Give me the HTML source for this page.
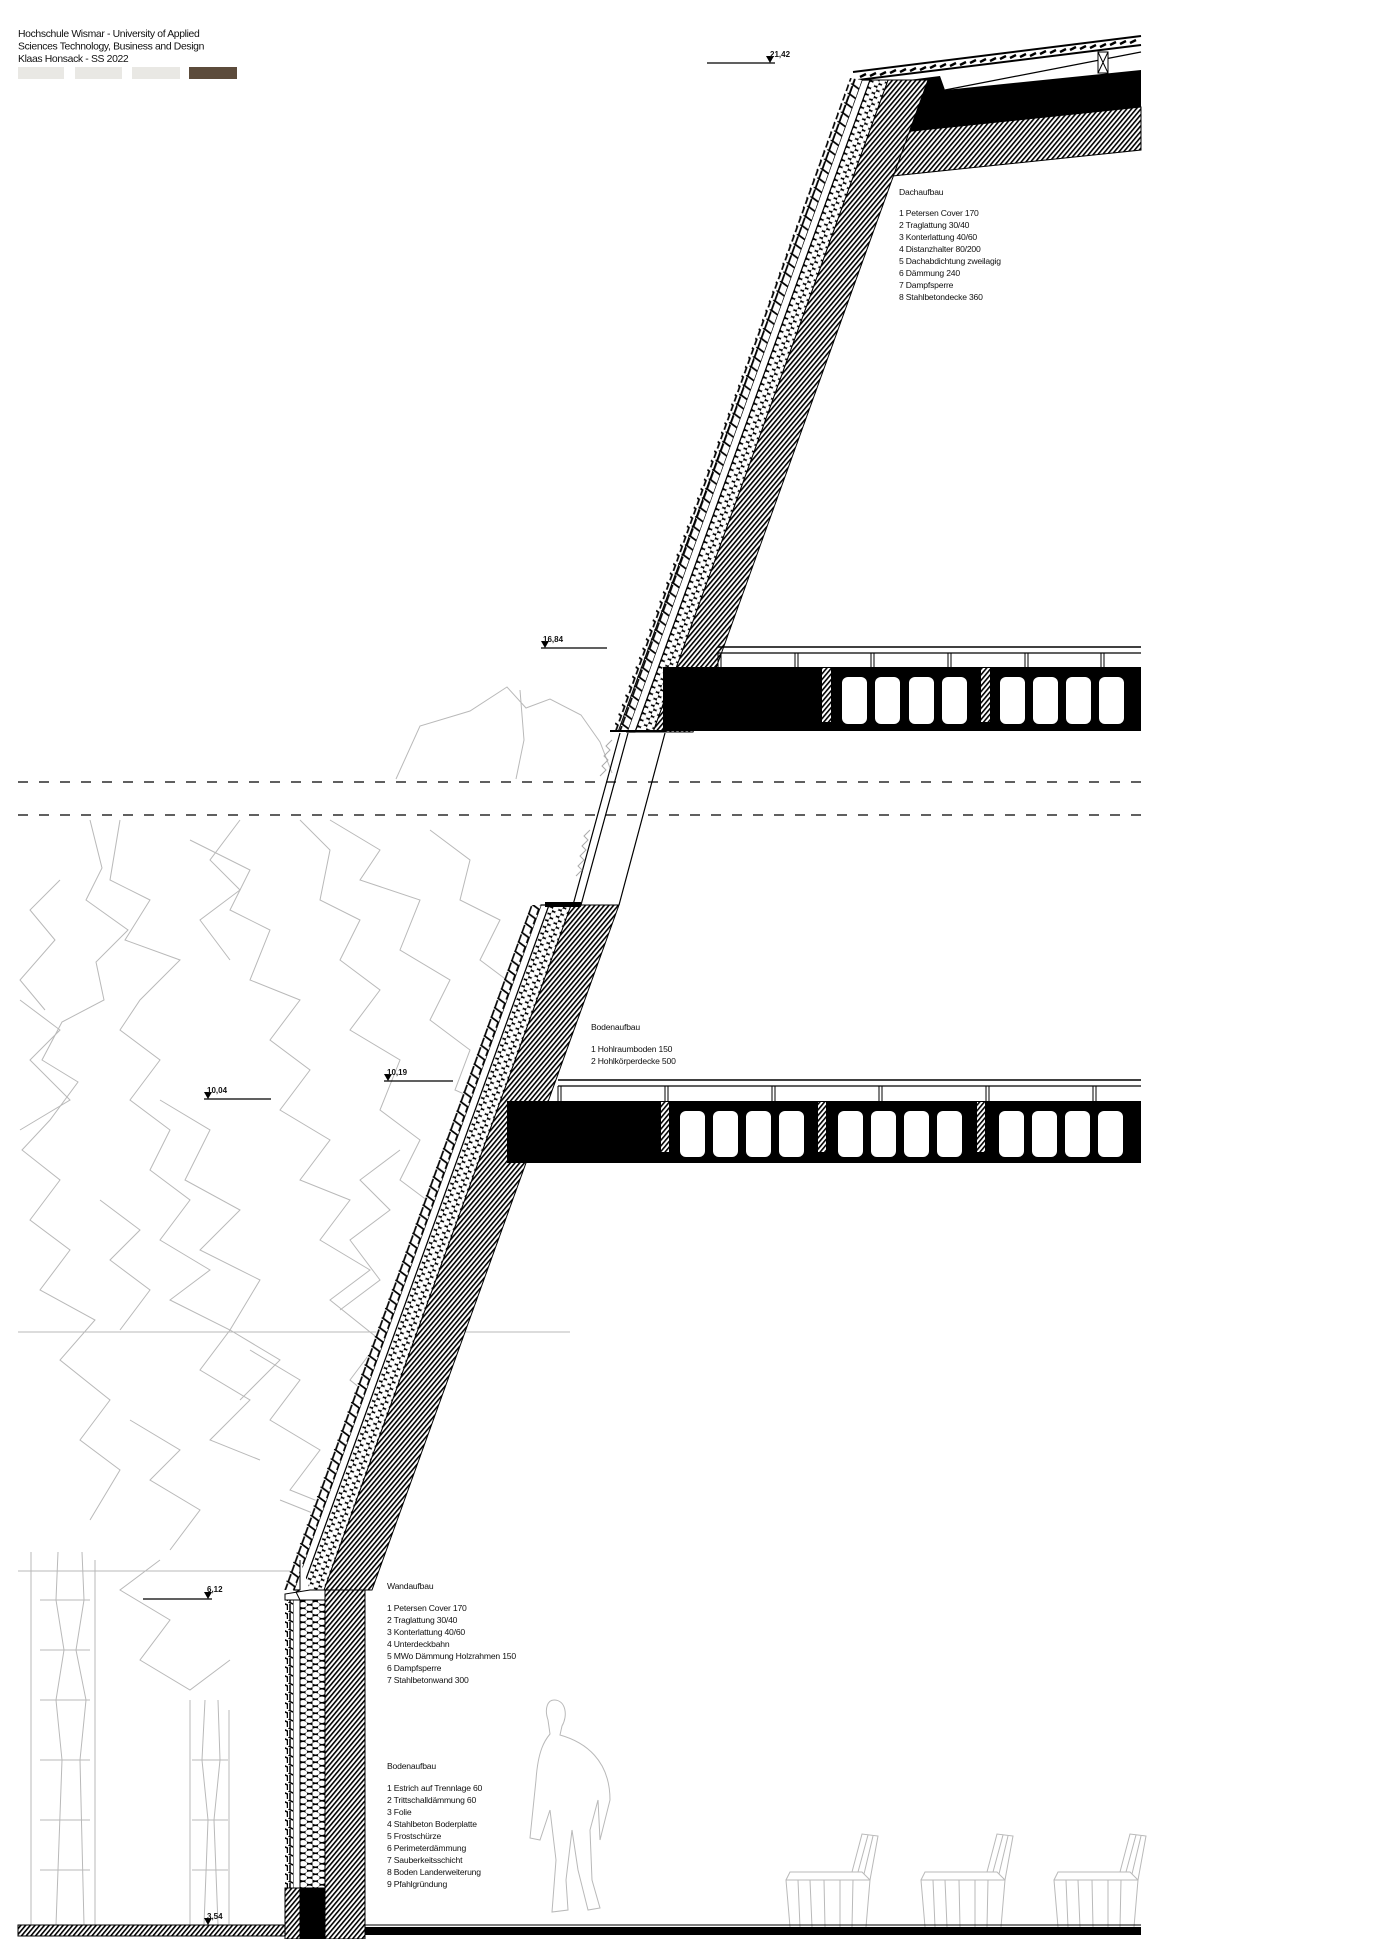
<!DOCTYPE html>
<html><head><meta charset="utf-8"><style>
html,body{margin:0;padding:0;background:#fff;}
svg{display:block;}
text{font-family:"Liberation Sans",sans-serif;fill:#111;}
.t{font-size:8.6px;letter-spacing:-0.2px;}
.h{font-size:10.4px;letter-spacing:-0.35px;}
.lv{font-size:8px;font-weight:bold;}
.g{fill:none;stroke:#b9b9b9;stroke-width:1;}
</style></head><body>
<svg width="1400" height="1939" viewBox="0 0 1400 1939" xmlns="http://www.w3.org/2000/svg">
<defs>
<pattern id="hat" width="3.6" height="3.6" patternUnits="userSpaceOnUse" patternTransform="rotate(40)">
<rect width="3.6" height="3.6" fill="#fff"/><rect width="1.6" height="3.6" fill="#000"/></pattern>
<pattern id="hex" width="9" height="7" patternUnits="userSpaceOnUse" patternTransform="rotate(19.8)">
<rect width="9" height="7" fill="#000"/><ellipse cx="2.25" cy="1.75" rx="3.3" ry="2.7" fill="#fff"/><ellipse cx="6.75" cy="5.25" rx="3.3" ry="2.7" fill="#fff"/><ellipse cx="2.25" cy="8.75" rx="3.3" ry="2.7" fill="#fff"/><ellipse cx="2.25" cy="-5.25" rx="3.3" ry="2.7" fill="#fff"/><ellipse cx="6.75" cy="-1.75" rx="3.3" ry="2.7" fill="#fff"/></pattern>
<pattern id="hexv" width="12.5" height="7" patternUnits="userSpaceOnUse">
<rect width="12.5" height="7" fill="#000"/><ellipse cx="3.1" cy="1.75" rx="4" ry="2.7" fill="#fff"/><ellipse cx="9.4" cy="5.25" rx="4" ry="2.7" fill="#fff"/><ellipse cx="3.1" cy="8.75" rx="4" ry="2.7" fill="#fff"/><ellipse cx="3.1" cy="-5.25" rx="4" ry="2.7" fill="#fff"/><ellipse cx="9.4" cy="-1.75" rx="4" ry="2.7" fill="#fff"/></pattern>
<pattern id="tth" width="12" height="10" patternUnits="userSpaceOnUse" patternTransform="rotate(19.8)">
<rect width="12" height="10" fill="#fff"/><path d="M1,0 L11,3 L11,9 M3,2.5 L3,10" stroke="#000" stroke-width="1.7" fill="none"/></pattern>
<pattern id="tthv" width="8" height="9" patternUnits="userSpaceOnUse">
<rect width="8" height="9" fill="#fff"/><path d="M0.5,0 L7.5,3 L7.5,8 M2,2 L2,9" stroke="#000" stroke-width="1.5" fill="none"/></pattern>
</defs>

<text class="h" x="18" y="37">Hochschule Wismar - University of  Applied</text>
<text class="h" x="18" y="49.5">Sciences Technology, Business and Design</text>
<text class="h" x="18" y="62">Klaas Honsack - SS 2022</text>
<rect x="18" y="67" width="46" height="12" fill="#e9e8e4"/>
<rect x="75" y="67" width="47" height="12" fill="#e9e8e4"/>
<rect x="132" y="67" width="48" height="12" fill="#e9e8e4"/>
<rect x="189" y="67" width="48" height="12" fill="#5c4b3b"/>

<g class="g">
<path d="M396,779 L420,726 L470,711 L507,687 L526,708 L550,699 L581,715 L600,742 L612,773"/>
<path d="M520,690 L524,740 L516,779"/>
<path d="M90,820 L102,868 L86,900 L128,930 L96,962 L104,1000 L62,1022 L42,1060 L78,1082 L50,1120 L22,1150 L60,1180 L30,1220 L70,1250 L40,1290 L95,1320 L60,1360 L110,1400 L80,1440 L120,1470 L90,1520"/>
<path d="M120,820 L110,880 L150,900 L125,940 L180,960 L140,1000 L120,1030 L160,1060 L130,1100 L170,1130 L150,1170 L190,1200 L160,1240 L210,1270 L170,1300 L230,1330 L200,1370 L250,1400 L210,1440 L260,1460"/>
<path d="M190,840 L250,870 L230,910 L270,930 L250,980 L300,1000 L270,1040 L310,1070 L280,1110 L330,1140 L300,1180 L350,1200 L320,1240 L370,1270 L330,1300 L380,1340 L350,1380 L400,1420 L370,1450"/>
<path d="M300,820 L330,850 L320,900 L360,920 L340,960 L380,990 L350,1030 L400,1060 L380,1110 L420,1140 L400,1180 L440,1210 L420,1250 L455,1290"/>
<path d="M330,820 L380,850 L360,880 L420,900 L400,950 L450,980 L430,1020 L470,1050 L455,1090 L500,1110"/>
<path d="M430,830 L470,860 L460,900 L500,920 L480,960 L520,990 L505,1030"/>
<path d="M20,1000 L60,1030 L30,1060 L70,1100 L20,1130"/>
<path d="M160,1100 L210,1130 L185,1180 L240,1210 L200,1250 L260,1280 L230,1330 L280,1360 L240,1400"/>
<path d="M250,1350 L300,1380 L270,1420 L320,1450 L290,1490 L340,1510 L320,1560"/>
<path d="M130,1420 L180,1450 L150,1480 L200,1510 L170,1550"/>
<path d="M280,1500 L330,1520 L300,1560 L340,1590 L310,1630 L350,1660"/>
<path d="M160,1560 L120,1590 L170,1620 L140,1660 L190,1690 L230,1660"/>
<path d="M60,880 L30,910 L55,940 L20,980 L45,1010 M240,820 L210,860 L240,890 L200,920 L230,960 M400,1150 L360,1180 L390,1210 L350,1240 L380,1280 L340,1310 M100,1200 L140,1230 L110,1260 L150,1290 L120,1330 M460,1200 L430,1240 L450,1280 L410,1310 L440,1350"/>
<line x1="18" y1="1332" x2="570" y2="1332"/>
<line x1="18" y1="1571" x2="290" y2="1571"/>
<path d="M31,1552 L31,1925 M58,1552 L56,1600 L64,1650 L56,1700 L62,1760 L56,1925 M82,1552 L84,1600 L76,1650 L86,1700 L80,1760 L84,1925 M95,1560 L95,1925 M40,1600 L90,1600 M40,1650 L90,1650 M40,1700 L90,1700 M40,1760 L90,1760 M40,1820 L90,1820 M40,1870 L90,1870"/>
<path d="M190,1700 L190,1925 M205,1700 L202,1760 L208,1820 L204,1925 M218,1700 L220,1760 L214,1820 L218,1925 M229,1710 L229,1925 M192,1760 L228,1760 M192,1820 L228,1820 M192,1870 L228,1870"/>
<path d="M554,1700 C566,1700 568,1716 562,1726 L560,1735 C585,1742 610,1760 610,1800 L600,1840 L598,1800 L590,1830 L592,1880 L600,1908 L588,1910 L578,1870 L572,1830 L566,1880 L568,1910 L552,1912 L556,1860 L550,1810 L540,1840 L530,1838 L536,1780 C538,1750 545,1740 550,1734 L548,1720 C544,1708 548,1700 554,1700 Z"/>
<g id="ch"><path d="M790,1927 L786,1880 L870,1880 L866,1927 M800,1927 L798,1880 M812,1927 L810,1880 M825,1927 L824,1880 M840,1927 L840,1880 M852,1927 L853,1880 M786,1880 L790,1872 L862,1872 L870,1880 M852,1872 L862,1834 L878,1836 L870,1880 M858,1872 L868,1835 M864,1874 L873,1836"/></g>
<use href="#ch" x="135"/>
<use href="#ch" x="268"/>
</g>

<rect x="0" y="782" width="1150" height="33" fill="#fff"/>

<rect x="18" y="1925" width="267" height="11" fill="url(#hat)" stroke="#000" stroke-width="1"/>
<line x1="365" y1="1925" x2="1141" y2="1925" stroke="#000"/>
<rect x="365" y="1927" width="776" height="8" fill="#000"/>

<polygon points="855,137 1141,107 1141,150 855,180" fill="url(#hat)" stroke="#000"/>
<polygon points="870,95 905,92 905,132 870,136" fill="url(#hat)" stroke="#000"/>
<polygon points="885,83 940,76 945,90 1141,70 1141,107 905,132 905,92 885,94" fill="#000"/>
<line x1="853" y1="72" x2="1141" y2="36" stroke="#000" stroke-width="2"/>
<line x1="858" y1="80" x2="1141" y2="45" stroke="#000" stroke-width="2"/>
<line x1="945" y1="90" x2="1141" y2="52" stroke="#000" stroke-width="1.2"/>
<path d="M860,77 l6,-3 M870,76 l6,-3 M880,75 l6,-3 M890,73 l6,-3 M900,72 l6,-3 M910,71 l6,-3 M920,70 l6,-3 M930,68 l6,-3 M940,67 l6,-3 M950,66 l6,-3 M960,65 l6,-3 M970,63 l6,-3 M980,62 l6,-3 M990,61 l6,-3 M1000,59 l6,-3 M1010,58 l6,-3 M1020,57 l6,-3 M1030,56 l6,-3 M1040,54 l6,-3 M1050,53 l6,-3 M1060,52 l6,-3 M1070,50 l6,-3 M1080,49 l6,-3 M1090,48 l6,-3 M1100,47 l6,-3 M1110,45 l6,-3 M1120,44 l6,-3 M1130,43 l6,-3" stroke="#000" stroke-width="2.4"/>
<rect x="1098" y="52" width="10" height="21" fill="#fff" stroke="#000"/>
<path d="M1098,52 L1108,73 M1108,52 L1098,73" stroke="#000"/>

<polygon points="888,80 928,80 693,732 653,732" fill="url(#hat)" stroke="#000"/>
<polygon points="870,80 888,80 653,732 635,732" fill="url(#hex)" stroke="#000"/>
<polygon points="862,80 870,80 635,732 627,732" fill="#fff" stroke="#000" stroke-width="1.2"/>
<polygon points="850,78 862,80 627,732 612,732" fill="url(#tth)"/>
<line x1="855" y1="80" x2="618" y2="732" stroke="#000" stroke-width="1"/>
<line x1="610" y1="731" x2="665" y2="731" stroke="#000" stroke-width="2"/>

<rect x="663" y="667" width="478" height="64" fill="#000"/>
<g fill="#fff">
<rect x="842" y="677" width="25" height="47" rx="6"/><rect x="875" y="677" width="25" height="47" rx="6"/><rect x="909" y="677" width="25" height="47" rx="6"/><rect x="942" y="677" width="25" height="47" rx="6"/>
<rect x="1000" y="677" width="25" height="47" rx="6"/><rect x="1033" y="677" width="25" height="47" rx="6"/><rect x="1066" y="677" width="25" height="47" rx="6"/><rect x="1099" y="677" width="25" height="47" rx="6"/>
</g>
<rect x="822" y="668" width="9" height="54" fill="url(#hat)"/>
<rect x="981" y="668" width="9" height="54" fill="url(#hat)"/>
<line x1="718" y1="647" x2="1141" y2="647" stroke="#000" stroke-width="1.5"/>
<line x1="718" y1="653" x2="1141" y2="653" stroke="#000" stroke-width="1.2"/>
<path d="M718,653 V667 M721,653 V667 M795,653 V667 M798,653 V667 M871,653 V667 M874,653 V667 M948,653 V667 M951,653 V667 M1025,653 V667 M1028,653 V667 M1101,653 V667 M1104,653 V667" stroke="#000"/>

<path d="M620,733 L573,905 M628,733 L581,905 M665,733 L619,905" stroke="#000" stroke-width="1.2"/>
<path d="M612,740 l-6,6 l4,4 l-6,6 l4,4 l-6,6 l4,4 l-6,6 M590,830 l-6,6 l4,4 l-6,6 l4,4 l-6,6 l4,4 l-6,6 l4,4 l-6,6" stroke="#aaa" fill="none"/>

<line x1="18" y1="782" x2="1141" y2="782" stroke="#000" stroke-width="1.3" stroke-dasharray="10,11"/>
<line x1="18" y1="815" x2="1141" y2="815" stroke="#000" stroke-width="1.3" stroke-dasharray="10,11"/>

<polygon points="571,905 619,905 372,1590 324,1590" fill="url(#hat)" stroke="#000"/>
<polygon points="549,905 571,905 324,1590 302,1590" fill="url(#hex)" stroke="#000"/>
<polygon points="541,905 549,905 302,1590 294,1590" fill="#fff" stroke="#000" stroke-width="1.2"/>
<polygon points="531,905 541,905 294,1590 283,1590" fill="url(#tth)"/>
<rect x="545" y="902" width="36" height="5" fill="#000"/>
<rect x="325" y="1590" width="40" height="349" fill="url(#hat)" stroke="#000"/>
<rect x="300" y="1600" width="25" height="288" fill="url(#hexv)" stroke="#000"/>
<rect x="293" y="1600" width="7" height="288" fill="#fff" stroke="#000"/>
<rect x="285" y="1600" width="8" height="288" fill="url(#tthv)"/>
<rect x="300" y="1888" width="25" height="51" fill="#000"/>
<rect x="285" y="1888" width="15" height="51" fill="url(#hat)" stroke="#000"/>
<path d="M300,1560 L300,1590 L296,1592 L300,1600 L285,1600 L285,1594 L310,1590" stroke="#000" fill="#fff"/>

<rect x="507" y="1101" width="634" height="62" fill="#000"/>
<g fill="#fff">
<rect x="680" y="1111" width="25" height="46" rx="6"/><rect x="713" y="1111" width="25" height="46" rx="6"/><rect x="746" y="1111" width="25" height="46" rx="6"/><rect x="779" y="1111" width="25" height="46" rx="6"/>
<rect x="838" y="1111" width="25" height="46" rx="6"/><rect x="871" y="1111" width="25" height="46" rx="6"/><rect x="904" y="1111" width="25" height="46" rx="6"/><rect x="937" y="1111" width="25" height="46" rx="6"/>
<rect x="999" y="1111" width="25" height="46" rx="6"/><rect x="1032" y="1111" width="25" height="46" rx="6"/><rect x="1065" y="1111" width="25" height="46" rx="6"/><rect x="1098" y="1111" width="25" height="46" rx="6"/>
</g>
<rect x="661" y="1102" width="8" height="50" fill="url(#hat)"/>
<rect x="818" y="1102" width="8" height="50" fill="url(#hat)"/>
<rect x="977" y="1102" width="8" height="50" fill="url(#hat)"/>
<line x1="558" y1="1080" x2="1141" y2="1080" stroke="#000" stroke-width="1.5"/>
<line x1="558" y1="1086" x2="1141" y2="1086" stroke="#000" stroke-width="1.2"/>
<path d="M558,1086 V1101 M561,1086 V1101 M665,1086 V1101 M668,1086 V1101 M772,1086 V1101 M775,1086 V1101 M879,1086 V1101 M882,1086 V1101 M986,1086 V1101 M989,1086 V1101 M1093,1086 V1101 M1096,1086 V1101" stroke="#000"/>

<g stroke="#000" stroke-width="1.2">
<line x1="707" y1="63" x2="775" y2="63"/>
<line x1="541" y1="648" x2="607" y2="648"/>
<line x1="384" y1="1081" x2="453" y2="1081"/>
<line x1="204" y1="1099" x2="271" y2="1099"/>
<line x1="143" y1="1599" x2="212" y2="1599"/>
</g>
<g fill="#000">
<polygon points="766,56 774,56 770,63"/>
<polygon points="541,641 549,641 545,648"/>
<polygon points="384,1074 392,1074 388,1081"/>
<polygon points="204,1092 212,1092 208,1099"/>
<polygon points="204,1592 212,1592 208,1599"/>
<polygon points="204,1918 212,1918 208,1925"/>
</g>
<text class="lv" x="770" y="57">21,42</text>
<text class="lv" x="543" y="642">16,84</text>
<text class="lv" x="387" y="1075">10,19</text>
<text class="lv" x="207" y="1093">10,04</text>
<text class="lv" x="207" y="1592">6,12</text>
<text class="lv" x="207" y="1919">3,54</text>

<text class="t" x="899" y="195">Dachaufbau</text>
<text class="t" x="899" y="216">1 Petersen Cover 170</text>
<text class="t" x="899" y="228">2 Traglattung 30/40</text>
<text class="t" x="899" y="240">3 Konterlattung 40/60</text>
<text class="t" x="899" y="252">4 Distanzhalter 80/200</text>
<text class="t" x="899" y="264">5 Dachabdichtung zweilagig</text>
<text class="t" x="899" y="276">6 Dämmung 240</text>
<text class="t" x="899" y="288">7 Dampfsperre</text>
<text class="t" x="899" y="300">8 Stahlbetondecke 360</text>

<text class="t" x="591" y="1030">Bodenaufbau</text>
<text class="t" x="591" y="1052">1 Hohlraumboden 150</text>
<text class="t" x="591" y="1064">2 Hohlkörperdecke 500</text>

<text class="t" x="387" y="1589">Wandaufbau</text>
<text class="t" x="387" y="1611">1 Petersen Cover 170</text>
<text class="t" x="387" y="1623">2 Traglattung 30/40</text>
<text class="t" x="387" y="1635">3 Konterlattung 40/60</text>
<text class="t" x="387" y="1647">4 Unterdeckbahn</text>
<text class="t" x="387" y="1659">5 MWo Dämmung Holzrahmen 150</text>
<text class="t" x="387" y="1671">6 Dampfsperre</text>
<text class="t" x="387" y="1683">7 Stahlbetonwand 300</text>

<text class="t" x="387" y="1769">Bodenaufbau</text>
<text class="t" x="387" y="1791">1 Estrich auf Trennlage 60</text>
<text class="t" x="387" y="1803">2 Trittschalldämmung 60</text>
<text class="t" x="387" y="1815">3 Folie</text>
<text class="t" x="387" y="1827">4 Stahlbeton Boderplatte</text>
<text class="t" x="387" y="1839">5 Frostschürze</text>
<text class="t" x="387" y="1851">6 Perimeterdämmung</text>
<text class="t" x="387" y="1863">7 Sauberkeitsschicht</text>
<text class="t" x="387" y="1875">8 Boden Landerweiterung</text>
<text class="t" x="387" y="1887">9 Pfahlgründung</text>
</svg>
</body></html>
